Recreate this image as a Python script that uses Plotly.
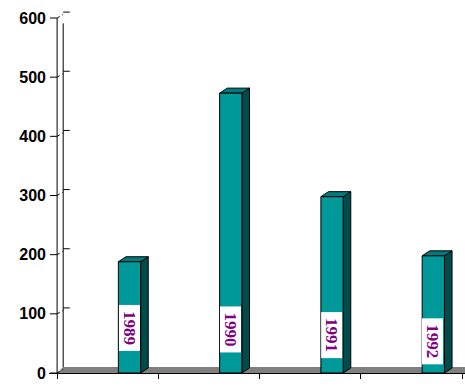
import plotly.graph_objects as go

# ---- data ----
categories = ["1989", "1990", "1991", "1992"]
values = [188, 473, 298, 198]
label_centers = [77, 74, 64, 53]
y_ticks = [0, 100, 200, 300, 400, 500, 600]

# ---- style / geometry (data units) ----
FRONT = "#009999"
TOP = "#007a7a"
SIDE = "#004c4c"
bar_off = 0.715     # bar centre within category
bar_w = 0.22
ddx = 0.075         # depth offset x
ddy = 8.5           # depth offset y
wall_dx = 0.06
wall_dy = 10.0

fig = go.Figure()

def poly(xs, ys, fill, line_color="black", width=1):
    fig.add_trace(go.Scatter(x=xs + [xs[0]], y=ys + [ys[0]], mode="lines",
                             fill="toself", fillcolor=fill,
                             line=dict(color=line_color, width=width),
                             hoverinfo="skip", showlegend=False))

def seg(xs, ys, dash="solid", color="black"):
    fig.add_trace(go.Scatter(x=xs, y=ys, mode="lines",
                             line=dict(color=color, width=1, dash=dash),
                             hoverinfo="skip", showlegend=False))

# floor
poly([0, 4.2, 4.2, wall_dx], [0, 0, wall_dy, wall_dy], "#808080", line_color="rgba(0,0,0,0)", width=0)

# back axis line and ticks
seg([wall_dx, wall_dx], [wall_dy, 591])
bx, by = [], []
for v in y_ticks[1:]:
    bx += [wall_dx, wall_dx + 0.065, None]
    by += [v + wall_dy, v + wall_dy, None]
seg(bx, by)
# diagonal connectors
cx, cy = [], []
for v in y_ticks:
    cx += [0, wall_dx, None]
    cy += [v, v + wall_dy * 0.6, None]
seg(cx, cy, dash="dot")

# front axis line and ticks
seg([0, 0], [0, 600])
fx, fy = [], []
for v in y_ticks:
    fx += [-0.07, 0, None]
    fy += [v, v, None]
seg(fx, fy)

# bars
for i, (c, v) in enumerate(zip(categories, values)):
    x0 = i + bar_off - bar_w / 2
    x1 = i + bar_off + bar_w / 2
    poly([x1, x1 + ddx, x1 + ddx, x1], [0, ddy, v + ddy, v], SIDE)
    poly([x0, x1, x1 + ddx, x0 + ddx], [v, v, v + ddy, v + ddy], TOP)
    poly([x0, x1, x1, x0], [0, 0, v, v], FRONT)

annotations = []
for i, (c, yc) in enumerate(zip(categories, label_centers)):
    annotations.append(dict(x=i + bar_off - 0.005, y=yc, xref="x", yref="y",
                            text="<b>%s</b>" % c, showarrow=False, textangle=90,
                            bgcolor="white", width=41, height=16, borderpad=2,
                            font=dict(family="Liberation Serif, Times New Roman, serif",
                                      size=17, color="#800080")))

fig.update_layout(
    width=465, height=391,
    margin=dict(l=49, r=0, t=5, b=18),
    paper_bgcolor="white", plot_bgcolor="white",
    showlegend=False,
    annotations=annotations,
    xaxis=dict(range=[-0.08, 4.028], showgrid=False, zeroline=False,
               showline=True, linecolor="black", linewidth=1,
               tickmode="array", tickvals=[0, 1, 2, 3, 4], ticktext=["", "", "", "", ""],
               ticks="outside", ticklen=5, tickcolor="black", fixedrange=True),
    yaxis=dict(range=[0, 622], showgrid=False, zeroline=False, showline=False,
               tickmode="array", tickvals=y_ticks, ticks="",
               ticklabelstandoff=2,
               tickfont=dict(family="Liberation Sans, Arial, sans-serif", size=16,
                             color="black", weight="bold"),
               fixedrange=True),
)

fig.write_html("out.html")
